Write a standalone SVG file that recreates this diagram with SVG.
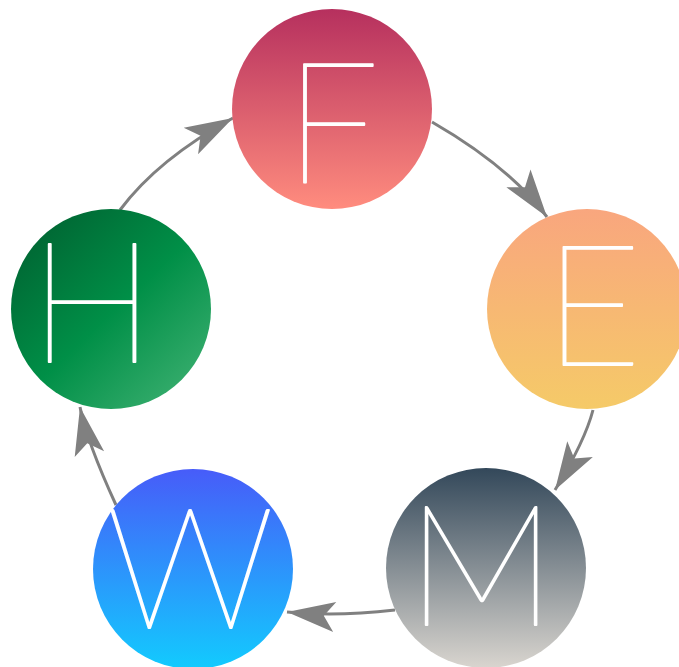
<svg xmlns="http://www.w3.org/2000/svg" width="679" height="667" viewBox="0 0 679 667">
  <defs>
    <linearGradient id="gF" x1="0" y1="0" x2="0" y2="1">
      <stop offset="0" stop-color="#b6305e"/>
      <stop offset="1" stop-color="#ff8c7e"/>
    </linearGradient>
    <linearGradient id="gE" x1="0" y1="0" x2="0" y2="1">
      <stop offset="0" stop-color="#f9a67e"/>
      <stop offset="1" stop-color="#f5ca68"/>
    </linearGradient>
    <linearGradient id="gM" x1="0" y1="0" x2="0" y2="1">
      <stop offset="0" stop-color="#33485a"/>
      <stop offset="1" stop-color="#d9d5cf"/>
    </linearGradient>
    <linearGradient id="gW" x1="0" y1="0" x2="0" y2="1">
      <stop offset="0" stop-color="#475cf9"/>
      <stop offset="1" stop-color="#12cbfe"/>
    </linearGradient>
    <linearGradient id="gH" x1="0.15" y1="0.1" x2="0.9" y2="0.9">
      <stop offset="0" stop-color="#006834"/>
      <stop offset="0.5" stop-color="#008f47"/>
      <stop offset="1" stop-color="#37ad6d"/>
    </linearGradient>
    <marker id="arr" markerUnits="userSpaceOnUse" viewBox="-50 -18 52 36" markerWidth="52" markerHeight="36" refX="0" refY="0" orient="auto">
      <path d="M0,0 L-48,-15 L-37,0 L-48,15 Z" fill="#808080"/>
    </marker>
    <style>
      .node circle { stroke: none; }
      .lbl { fill: #ffffff; stroke: #ffffff; stroke-width: 1.8; stroke-linejoin: round; font-family: "Lato", "Inter", "Roboto", "DejaVu Sans", sans-serif; font-weight: 100; font-size: 168px; text-anchor: middle; }
      .conn path { fill: none; stroke: #808080; stroke-width: 3; marker-end: url(#arr); }
    </style>
  </defs>
  <rect width="679" height="667" fill="#ffffff"/>
  <g id="connectors" class="conn">
    <path d="M432,122 Q510,167 547,217"/>
    <path d="M593,410 Q585,441 555,490"/>
    <path d="M395,610 Q335,617 287,612"/>
    <path d="M116,505 Q87,442 80,407"/>
    <path d="M120,210 Q158,159 233,118"/>
  </g>
  <g id="node-F" class="node">
    <circle cx="332" cy="109" r="100" fill="url(#gF)"/>
    <text class="lbl" x="332" y="182">F</text>
  </g>
  <g id="node-E" class="node">
    <circle cx="587" cy="309" r="100" fill="url(#gE)"/>
    <text class="lbl" x="593" y="365">E</text>
  </g>
  <g id="node-M" class="node">
    <circle cx="486" cy="568" r="100" fill="url(#gM)"/>
    <text class="lbl" x="481" y="625">M</text>
  </g>
  <g id="node-W" class="node">
    <circle cx="193" cy="569" r="100" fill="url(#gW)"/>
    <text class="lbl" x="190" y="628">W</text>
  </g>
  <g id="node-H" class="node">
    <circle cx="111" cy="309" r="100" fill="url(#gH)"/>
    <text class="lbl" x="92" y="362">H</text>
  </g>
</svg>
